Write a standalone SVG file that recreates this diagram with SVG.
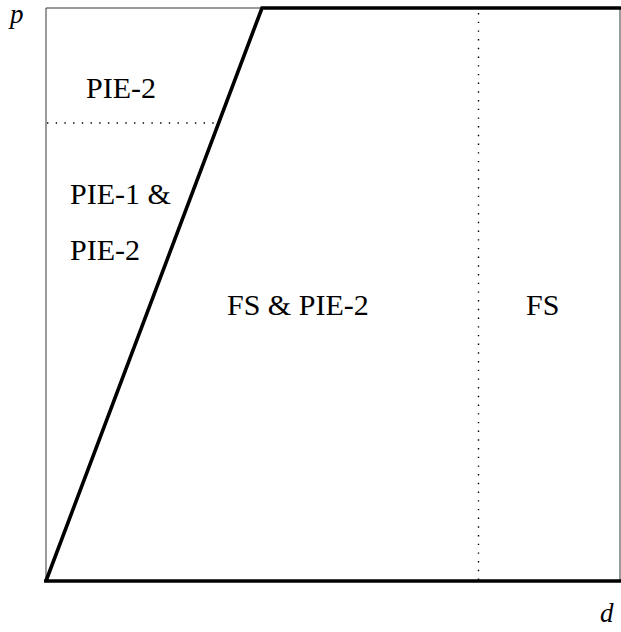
<svg xmlns="http://www.w3.org/2000/svg" width="621" height="632" viewBox="0 0 621 632">
<style>
.thin{stroke:#000;stroke-width:0.8;fill:none}
.thick{stroke:#000;stroke-width:3.6;fill:none;stroke-linejoin:miter;stroke-linecap:butt}
.dot{stroke:#000;stroke-width:1.4;fill:none;stroke-dasharray:1.4 7.3}
.lbl{font-family:"Liberation Serif","DejaVu Serif",serif;font-size:30px;fill:#000}
.ax{font-family:"Liberation Serif","DejaVu Serif",serif;font-size:27px;font-style:italic;fill:#000}
</style>
<rect width="621" height="632" fill="#fff"/>
<g id="frame">
<line class="thin" x1="46" y1="8" x2="46" y2="581"/>
<line class="thin" x1="46" y1="8" x2="262" y2="8"/>
<line class="thin" x1="620" y1="8" x2="620" y2="581"/>
</g>
<g id="connectors">
<line class="dot" x1="47" y1="123" x2="214" y2="123"/>
<line class="dot" x1="478.5" y1="13" x2="478.5" y2="581"/>
<polyline class="thick" points="46,581 262,8 621,8"/>
<line class="thick" x1="44" y1="581" x2="621" y2="581"/>
</g>
<g id="labels">
<text class="lbl" x="86" y="98">PIE-2</text>
<text class="lbl" x="70" y="204">PIE-1 &amp;</text>
<text class="lbl" x="70" y="260">PIE-2</text>
<text class="lbl" x="227" y="315">FS &amp; PIE-2</text>
<text class="lbl" x="526" y="315">FS</text>
<text class="ax" x="10" y="23">p</text>
<text class="ax" x="600" y="622">d</text>
</g>
</svg>
